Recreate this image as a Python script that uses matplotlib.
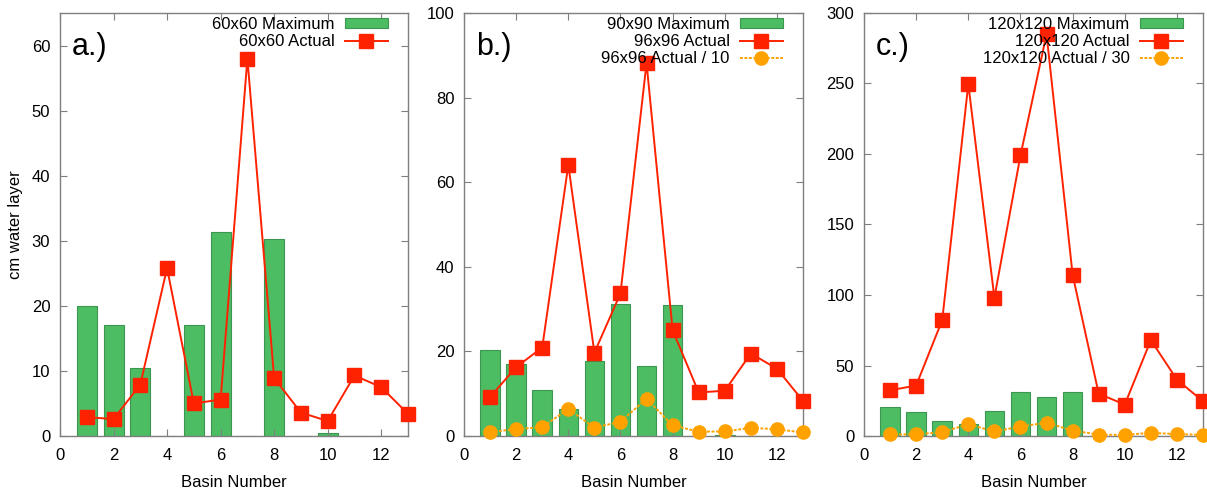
import matplotlib.pyplot as plt
import numpy as np

plt.rcParams['font.family'] = ['Liberation Sans', 'DejaVu Sans']
plt.rcParams['font.size'] = 12

basins = np.arange(1, 14)

# panel a.)
max_a = [20.0, 17.0, 10.4, 0, 17.1, 31.3, 0, 30.3, 0, 0.5, 0, 0, 0]
act_a = [2.9, 2.6, 7.9, 25.8, 5.0, 5.6, 58.0, 8.9, 3.6, 2.3, 9.3, 7.5, 3.4]

# panel b.)
max_b = [20.4, 17.0, 10.8, 6.3, 17.7, 31.3, 16.5, 31.0, 0, 0.3, 0, 0, 0]
act_b = [9.2, 16.3, 20.9, 64.1, 19.7, 33.7, 88.2, 25.0, 10.3, 10.7, 19.5, 15.9, 8.3]

# panel c.)
max_c = [20.4, 16.8, 10.9, 8.8, 17.5, 31.3, 27.9, 31.3, 0, 0, 0, 0, 0]
act_c = [32.4, 35.8, 82.2, 249.6, 98.0, 199.0, 285.0, 114.4, 30.0, 22.3, 68.0, 40.0, 24.6]

green = '#4dbd64'
green_edge = '#3b9650'
red = '#ff2200'
orange = '#ffa200'
frame = '#7f7f7f'

fig = plt.figure(figsize=(12.07, 4.91), dpi=100)
W, H = 1207, 491
bottom, top = 436, 13
boxes = [(60, 408), (464, 803), (864, 1203)]
axes = [fig.add_axes([l / W, 1 - bottom / H, (r - l) / W, (bottom - top) / H])
        for l, r in boxes]

panels = [
    ('a.)', '60x60', '60x60', max_a, act_a, None, 65, 10),
    ('b.)', '90x90', '96x96', max_b, act_b, 10, 100, 20),
    ('c.)', '120x120', '120x120', max_c, act_c, 30, 300, 50),
]

for ax, (tag, mname, aname, mx, act, div, ymax, ystep) in zip(axes, panels):
    hs = []
    hs.append(ax.bar(basins, mx, width=0.75, color=green, edgecolor=green_edge,
                     linewidth=0.8, label=mname + ' Maximum', zorder=1))
    hs += ax.plot(basins, act, color=red, lw=1.4, marker='s', ms=9.5,
                  mec=red, label=aname + ' Actual', zorder=3, clip_on=False)
    if div:
        hs += ax.plot(basins, np.array(act) / div, color=orange, lw=1.4,
                      ls=(0, (1.5, 0.8)), marker='o', ms=9.5, mec=orange,
                      label='%s Actual / %d' % (aname, div), zorder=4,
                      clip_on=False)
    ax.set_xlim(0, 13)
    ax.set_ylim(0, ymax)
    ax.set_xticks(range(0, 13, 2))
    ax.set_yticks(range(0, ymax + 1, ystep))
    ax.tick_params(direction='in', length=5, width=0.8, color=frame,
                   top=True, right=True, labelsize=12)
    ax.tick_params(axis='x', pad=9)
    ax.tick_params(axis='y', pad=7)
    for s in ax.spines.values():
        s.set_color(frame)
        s.set_linewidth(1.0)
    ax.set_xlabel('Basin Number', fontsize=12, labelpad=8)
    ax.text(0.035, 0.92, tag, transform=ax.transAxes, fontsize=22,
            va='center', ha='left')
    w = ax.get_position().width * W
    ax.legend(handles=hs, loc='upper right',
              bbox_to_anchor=(1 - 20 / w, 1 - 4 / 423),
              frameon=False, markerfirst=False, borderpad=0,
              borderaxespad=0, handlelength=2.6, handleheight=0.55,
              handletextpad=0.6, labelspacing=0.12, fontsize=12)

axes[0].set_ylabel('cm water layer', fontsize=12, labelpad=6)

fig.savefig('out.png', dpi=100)
